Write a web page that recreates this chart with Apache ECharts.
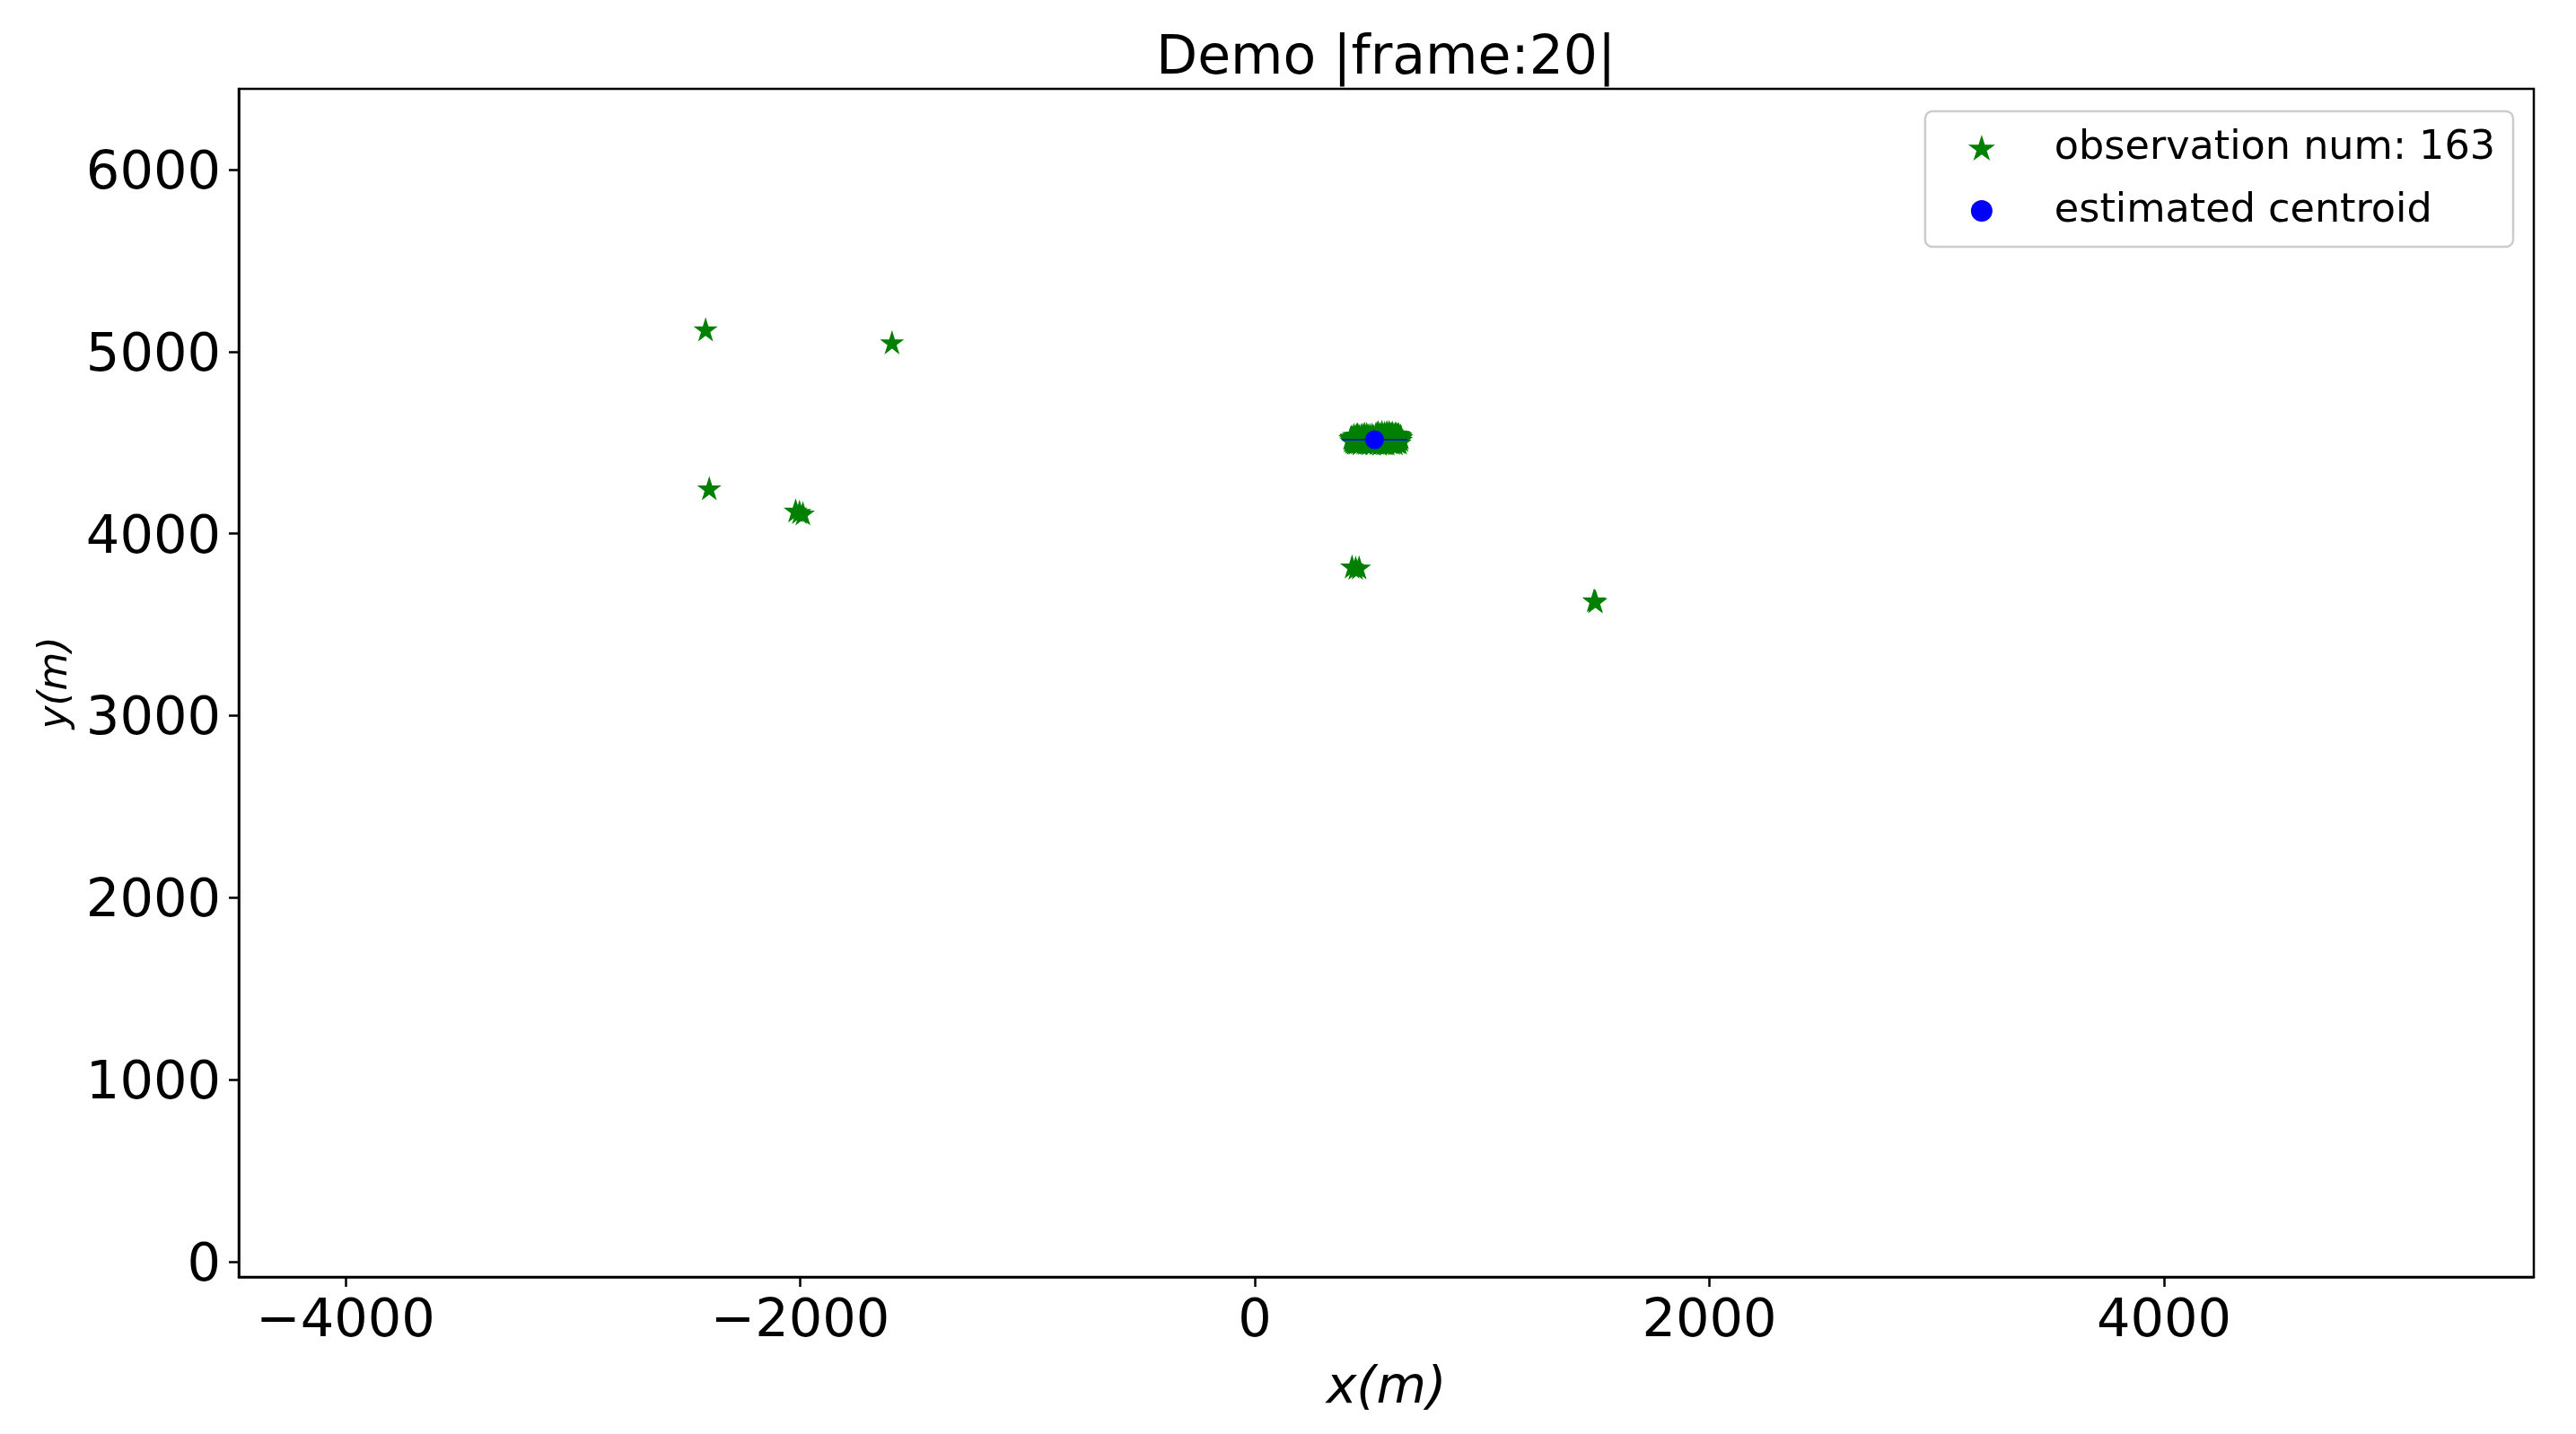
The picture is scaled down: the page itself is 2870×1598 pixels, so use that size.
<!DOCTYPE html>
<html>
<head>
<meta charset="utf-8">
<script src="https://cdn.jsdelivr.net/npm/echarts@6/dist/echarts.min.js"></script>
<style>
html,body{margin:0;padding:0;background:#fff;}
#chart{width:2870px;height:1598px;}
</style>
</head>
<body>
<div id="chart"></div>
<script>
// ---- data ----
const titleText = 'Demo |frame:20|';
const obsLegend = 'observation num: 163';
const centroidLegend = 'estimated centroid';
const xTicks = [-4000, -2000, 0, 2000, 4000];
const yTicks = [0, 1000, 2000, 3000, 4000, 5000, 6000];
const xRange = [-4470, 5627];
const yRange = [-84, 6444];

// isolated observations
const outlierPts = [
  [-2416, 5121], [-1596, 5050], [-2400, 4248],
  [-2020, 4126], [-2003, 4118], [-1988, 4110],
  [428, 3818], [444, 3811], [459, 3813],
  [1493, 3633], [1499, 3627]
];
// dense cluster, left lobe
const clusterLeft = [
  [421,4524],[424,4511],[427,4532],[430,4503],[433,4519],[436,4541],[438,4497],[441,4527],[444,4508],[447,4536],
  [449,4515],[452,4544],[455,4501],[457,4522],[460,4531],[463,4495],[465,4513],[468,4540],[471,4506],[473,4526],
  [476,4543],[479,4499],[481,4518],[484,4535],[487,4509],[489,4529],[492,4546],[495,4502],[497,4521],[500,4538],
  [503,4496],[505,4514],[508,4532],[511,4505],[513,4524],[516,4542],[518,4500],[521,4517],[523,4534],[526,4510],
  [429,4516],[439,4521],[446,4499],[458,4538],[466,4525],[474,4511],[483,4547],[491,4516],[499,4507],[507,4541],
  [515,4528],[520,4495],[425,4529],[435,4505],[443,4533],[451,4520],[462,4502],[470,4533],[478,4521],[486,4497],
  [494,4537],[502,4526],[510,4518],[517,4537],[448,4541],[456,4529],[467,4518],[485,4528],[496,4511],[509,4500]
];
// dense cluster, right lobe
const clusterRight = [
  [529,4503],[531,4529],[533,4548],[535,4515],[537,4497],[539,4538],[541,4522],[543,4555],[545,4508],[547,4531],
  [549,4493],[551,4545],[553,4518],[555,4536],[557,4502],[559,4557],[561,4524],[563,4511],[565,4543],[567,4496],
  [569,4530],[571,4552],[573,4515],[575,4538],[577,4505],[579,4527],[581,4556],[583,4494],[585,4519],[587,4541],
  [589,4509],[591,4533],[593,4550],[595,4500],[597,4523],[599,4545],[601,4513],[603,4535],[605,4554],[607,4497],
  [609,4527],[611,4542],[613,4507],[615,4520],[617,4549],[619,4495],[621,4531],[623,4516],[625,4540],[627,4503],
  [629,4525],[631,4547],[633,4511],[635,4534],[637,4499],[639,4521],[641,4538],[643,4514],[645,4528],[538,4551],
  [546,4524],[554,4499],[562,4540],[570,4508],[578,4547],[586,4528],[594,4514],[602,4546],[610,4519],[618,4536],
  [626,4509],[634,4543],[542,4514],[558,4530],[574,4495],[590,4556],[606,4512],[622,4548],[638,4531],[566,4521],
  [582,4534],[598,4502]
];
const centroidPts = [[527, 4516]];
const centroidLine = [[383, 4516], [672, 4516]];

// ---- chart ----
const starPath = 'path://M100,0 L77.55,69.1 L4.9,69.1 L63.67,111.8 L41.22,180.9 L100,138.2 L158.78,180.9 L136.33,111.8 L195.1,69.1 L122.45,69.1 Z';
const FONT = 'DejaVu Sans';
const minusFmt = v => (v < 0 ? '\u2212' + Math.abs(v) : String(v));

const chart = echarts.init(document.getElementById('chart'), null, {renderer: 'canvas'});
chart.setOption({
  backgroundColor: '#ffffff',
  animation: false,
  title: {
    text: titleText,
    left: 1288,
    top: 36,
    padding: 0,
    textStyle: {fontFamily: FONT, fontSize: 60, fontWeight: 'normal', color: '#000'}
  },
  legend: {
    orient: 'vertical',
    right: 70,
    top: 124,
    data: [obsLegend, centroidLegend],
    itemWidth: 24,
    itemHeight: 24,
    itemGap: 20,
    padding: [16, 20, 15, 50],
    borderColor: '#cccccc',
    borderWidth: 2.5,
    borderRadius: 8,
    backgroundColor: 'rgba(255,255,255,0.8)',
    textStyle: {fontFamily: FONT, fontSize: 44.5, color: '#000', lineHeight: 50, padding: [0, 0, 0, 64]}
  },
  grid: {
    left: 266, right: 47, top: 99, bottom: 175,
    show: true, borderColor: '#000', borderWidth: 2.5, backgroundColor: 'transparent'
  },
  xAxis: {
    type: 'value',
    min: xRange[0], max: xRange[1],
    name: 'x(m)',
    nameLocation: 'middle',
    nameGap: 97,
    nameTextStyle: {fontFamily: FONT, fontSize: 57, fontStyle: 'italic', color: '#000'},
    axisLine: {show: true, onZero: false, lineStyle: {color: '#000', width: 2.5}},
    axisTick: {show: true, length: 11, lineStyle: {color: '#000', width: 2.5}, customValues: xTicks},
    axisLabel: {fontFamily: FONT, fontSize: 59, color: '#000', margin: 21, customValues: xTicks, formatter: minusFmt},
    splitLine: {show: false}
  },
  yAxis: {
    type: 'value',
    min: yRange[0], max: yRange[1],
    name: 'y(m)',
    nameLocation: 'middle',
    nameGap: 180,
    nameRotate: 90,
    nameTextStyle: {fontFamily: FONT, fontSize: 44, fontStyle: 'italic', color: '#000'},
    axisLine: {show: true, onZero: false, lineStyle: {color: '#000', width: 2.5}},
    axisTick: {show: true, length: 11, lineStyle: {color: '#000', width: 2.5}, customValues: yTicks},
    axisLabel: {fontFamily: FONT, fontSize: 59, color: '#000', margin: 20, verticalAlign: 'top', lineHeight: 11, customValues: yTicks, formatter: minusFmt},
    splitLine: {show: false}
  },
  series: [
    {
      name: obsLegend,
      type: 'scatter',
      symbol: starPath,
      symbolSize: [21, 21],
      itemStyle: {color: '#008000', borderColor: '#008000', borderWidth: 2, opacity: 1},
      data: outlierPts.concat(clusterLeft, clusterRight),
      z: 2
    },
    {
      name: 'centroid-line',
      type: 'line',
      data: centroidLine,
      symbol: 'none',
      lineStyle: {color: '#0000ff', width: 1.5},
      z: 3
    },
    {
      name: centroidLegend,
      type: 'scatter',
      symbol: 'circle',
      symbolSize: 21,
      itemStyle: {color: '#0000ff', opacity: 1},
      data: centroidPts,
      z: 4
    }
  ]
});
</script>
</body>
</html>
